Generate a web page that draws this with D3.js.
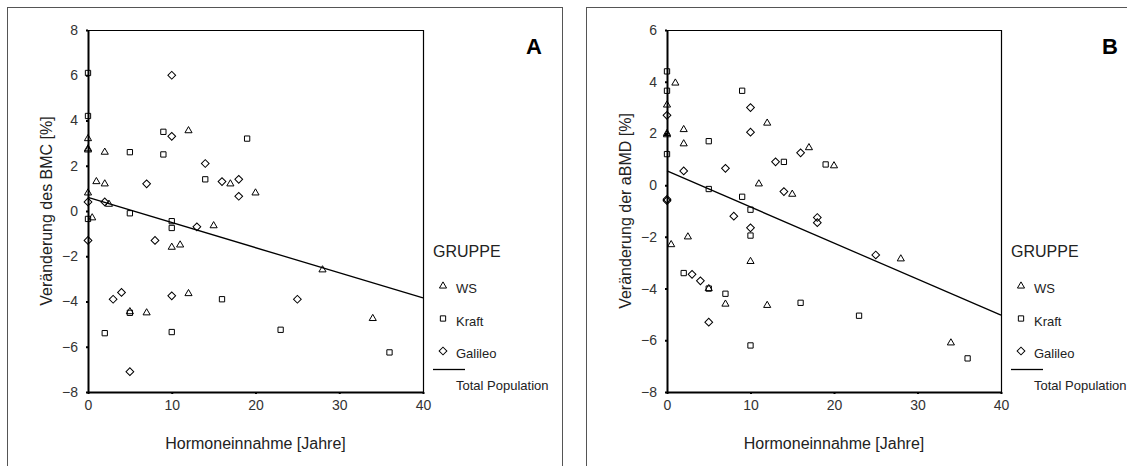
<!DOCTYPE html>
<html>
<head>
<meta charset="utf-8"/>
<title>Hormoneinnahme</title>
<script src="https://d3js.org/d3.v7.min.js"></script>
<style>
  body { margin: 0; background: #fff; }
  text { font-family: Arial, "Liberation Sans", sans-serif; }
</style>
</head>
<body>
<div id="chart"></div>
<script>
// groups and tick values
var groups = ["WS", "Kraft", "Galileo"];
var xTicks = [0, 10, 20, 30, 40];
var yTicksA = [-8, -6, -4, -2, 0, 2, 4, 6, 8];
var yTicksB = [-8, -6, -4, -2, 0, 2, 4, 6];

// panel A: [Hormoneinnahme, Veränderung BMC]
var bmcWS = [[0,3.2],[0,2.7],[0,2.75],[2,2.6],[12,3.55],[1,1.3],[2,1.2],[0,0.8],[2.5,0.3],
  [0.5,-0.3],[17,1.2],[20,0.8],[15,-0.65],[10,-1.6],[11,-1.5],[12,-3.65],[5,-4.45],[7,-4.5],
  [28,-2.6],[34,-4.75]];
var bmcKraft = [[0,6.1],[0,4.2],[9,3.5],[5,2.6],[9,2.5],[19,3.2],[14,1.4],[5,-0.1],[0,-0.35],
  [10,-0.45],[10,-0.75],[2,-5.4],[10,-5.35],[16,-3.9],[5,-4.5],[23,-5.25],[36,-6.25]];
var bmcGalileo = [[10,6.0],[10,3.3],[14,2.1],[7,1.2],[16,1.3],[18,1.4],[18,0.65],[0,0.4],
  [2,0.4],[13,-0.7],[0,-1.3],[8,-1.3],[3,-3.9],[4,-3.6],[10,-3.75],[5,-7.1],[25,-3.9]];
var bmcFit = [0.6, -3.84];   // line value at x = 0 and x = 40

// panel B: [Hormoneinnahme, Veränderung aBMD]
var bmdWS = [[1,3.95],[0,3.1],[0,2.0],[0,1.95],[2,2.15],[2,1.6],[12,2.4],[17,1.45],[11,0.05],
  [15,-0.35],[20,0.75],[0.5,-2.3],[2.5,-2.0],[10,-2.95],[5,-4.0],[7,-4.6],[12,-4.65],
  [28,-2.85],[34,-6.1]];
var bmdKraft = [[0,4.4],[0,3.65],[0,1.2],[9,3.65],[5,1.7],[14,0.9],[19,0.8],[5,-0.15],
  [9,-0.45],[10,-0.95],[10,-1.95],[2,-3.4],[5,-4.0],[7,-4.2],[16,-4.55],[10,-6.2],
  [23,-5.05],[36,-6.7]];
var bmdGalileo = [[0,2.7],[0,-0.55],[0,-0.6],[10,3.0],[10,2.05],[2,0.55],[7,0.65],[13,0.9],
  [16,1.25],[14,-0.25],[8,-1.2],[10,-1.65],[18,-1.25],[18,-1.45],[3,-3.45],[4,-3.7],
  [5,-5.3],[25,-2.7]];
var bmdFit = [0.55, -5.03];

var width = 1127, height = 466;
var svg = d3.select("#chart").append("svg")
  .attr("width", width).attr("height", height);

var symbols = {
  "WS": d3.symbol().type(d3.symbolTriangle).size(22),
  "Kraft": d3.symbol().type(d3.symbolSquare).size(28),
  "Galileo": d3.symbol().type(d3.symbolSquare).size(30)
};

function marker(g, grp, x, y) {
  g.append("path")
    .attr("d", symbols[grp]())
    .attr("transform", "translate(" + x + "," + y + ")" + (grp == "Galileo" ? " rotate(45)" : ""))
    .attr("fill", "none")
    .attr("stroke", "#000")
    .attr("stroke-width", 1);
}

function drawPanel(o) {
  // outer frame
  svg.append("rect")
    .attr("x", o.frameX + 0.5).attr("y", 7.5)
    .attr("width", o.frameW).attr("height", 500)
    .attr("fill", "none").attr("stroke", "#555").attr("stroke-width", 1);

  var x = d3.scaleLinear().domain([0, 40]).range([o.left, o.right]);
  var y = d3.scaleLinear().domain(o.yDomain).range([392, 30]);
  var g = svg.append("g");

  // top / right border of plot
  g.append("path")
    .attr("d", "M" + o.left + ",30.5H" + (o.right + 0.5) + "V392")
    .attr("fill", "none").attr("stroke", "#000").attr("stroke-width", 1.2);

  var yAxis = g.append("g")
    .attr("transform", "translate(" + o.left + ",0)")
    .call(d3.axisLeft(y).tickValues(o.yTicks).tickSize(2).tickSizeOuter(0).tickPadding(8));
  var xAxis = g.append("g")
    .attr("transform", "translate(0,392)")
    .call(d3.axisBottom(x).tickValues(xTicks).tickSize(2).tickSizeOuter(0).tickPadding(6));
  [xAxis, yAxis].forEach(function(a) {
    a.select(".domain").attr("stroke", "#000").attr("stroke-width", 2);
    a.selectAll(".tick line").attr("stroke", "#000").attr("stroke-width", 2);
    a.selectAll(".tick text").attr("fill", "#333").style("font-size", "14px")
      .style("font-family", "Arial, 'Liberation Sans', sans-serif");
  });

  // regression line
  g.append("line")
    .attr("x1", x(0)).attr("y1", y(o.fit[0]))
    .attr("x2", x(40)).attr("y2", y(o.fit[1]))
    .attr("stroke", "#000").attr("stroke-width", 1.3);

  // points
  groups.forEach(function(grp, i) {
    o.series[i].forEach(function(d) { marker(g, grp, x(d[0]), y(d[1])); });
  });

  // axis titles
  svg.append("text")
    .attr("x", (o.left + o.right) / 2).attr("y", 449)
    .attr("text-anchor", "middle").style("font-size", "16px").attr("fill", "#222")
    .text("Hormoneinnahme [Jahre]");
  svg.append("text")
    .attr("transform", "translate(" + (o.left - 36) + ",211) rotate(-90)")
    .attr("text-anchor", "middle").style("font-size", "16px").attr("fill", "#222")
    .text(o.yTitle);

  // panel letter
  svg.append("text")
    .attr("x", o.letterX).attr("y", 54)
    .attr("text-anchor", "middle").style("font-size", "22px").style("font-weight", "bold")
    .text(o.letter);

  // legend
  var lx = o.right + 10;
  svg.append("text").attr("x", lx).attr("y", 257)
    .style("font-size", "16px").attr("fill", "#222").text("GRUPPE");
  groups.forEach(function(grp, i) {
    var cy = 286 + i * 32.5;
    marker(svg, grp, lx + 10, cy);
    svg.append("text").attr("x", lx + 23).attr("y", cy + 7)
      .style("font-size", "13px").attr("fill", "#222").text(grp);
  });
  svg.append("line")
    .attr("x1", lx).attr("x2", lx + 32).attr("y1", 369.5).attr("y2", 369.5)
    .attr("stroke", "#000").attr("stroke-width", 1.3);
  svg.append("text").attr("x", lx + 23).attr("y", 390)
    .style("font-size", "13px").attr("fill", "#222").text("Total Population");
}

drawPanel({
  frameX: 7, frameW: 555, left: 88, right: 423,
  yDomain: [-8, 8], yTicks: yTicksA, fit: bmcFit,
  series: [bmcWS, bmcKraft, bmcGalileo],
  yTitle: "Veränderung des BMC [%]", letter: "A", letterX: 534
});
drawPanel({
  frameX: 586, frameW: 600, left: 667, right: 1001,
  yDomain: [-8, 6], yTicks: yTicksB, fit: bmdFit,
  series: [bmdWS, bmdKraft, bmdGalileo],
  yTitle: "Veränderung der aBMD [%]", letter: "B", letterX: 1110
});
</script>
</body>
</html>
